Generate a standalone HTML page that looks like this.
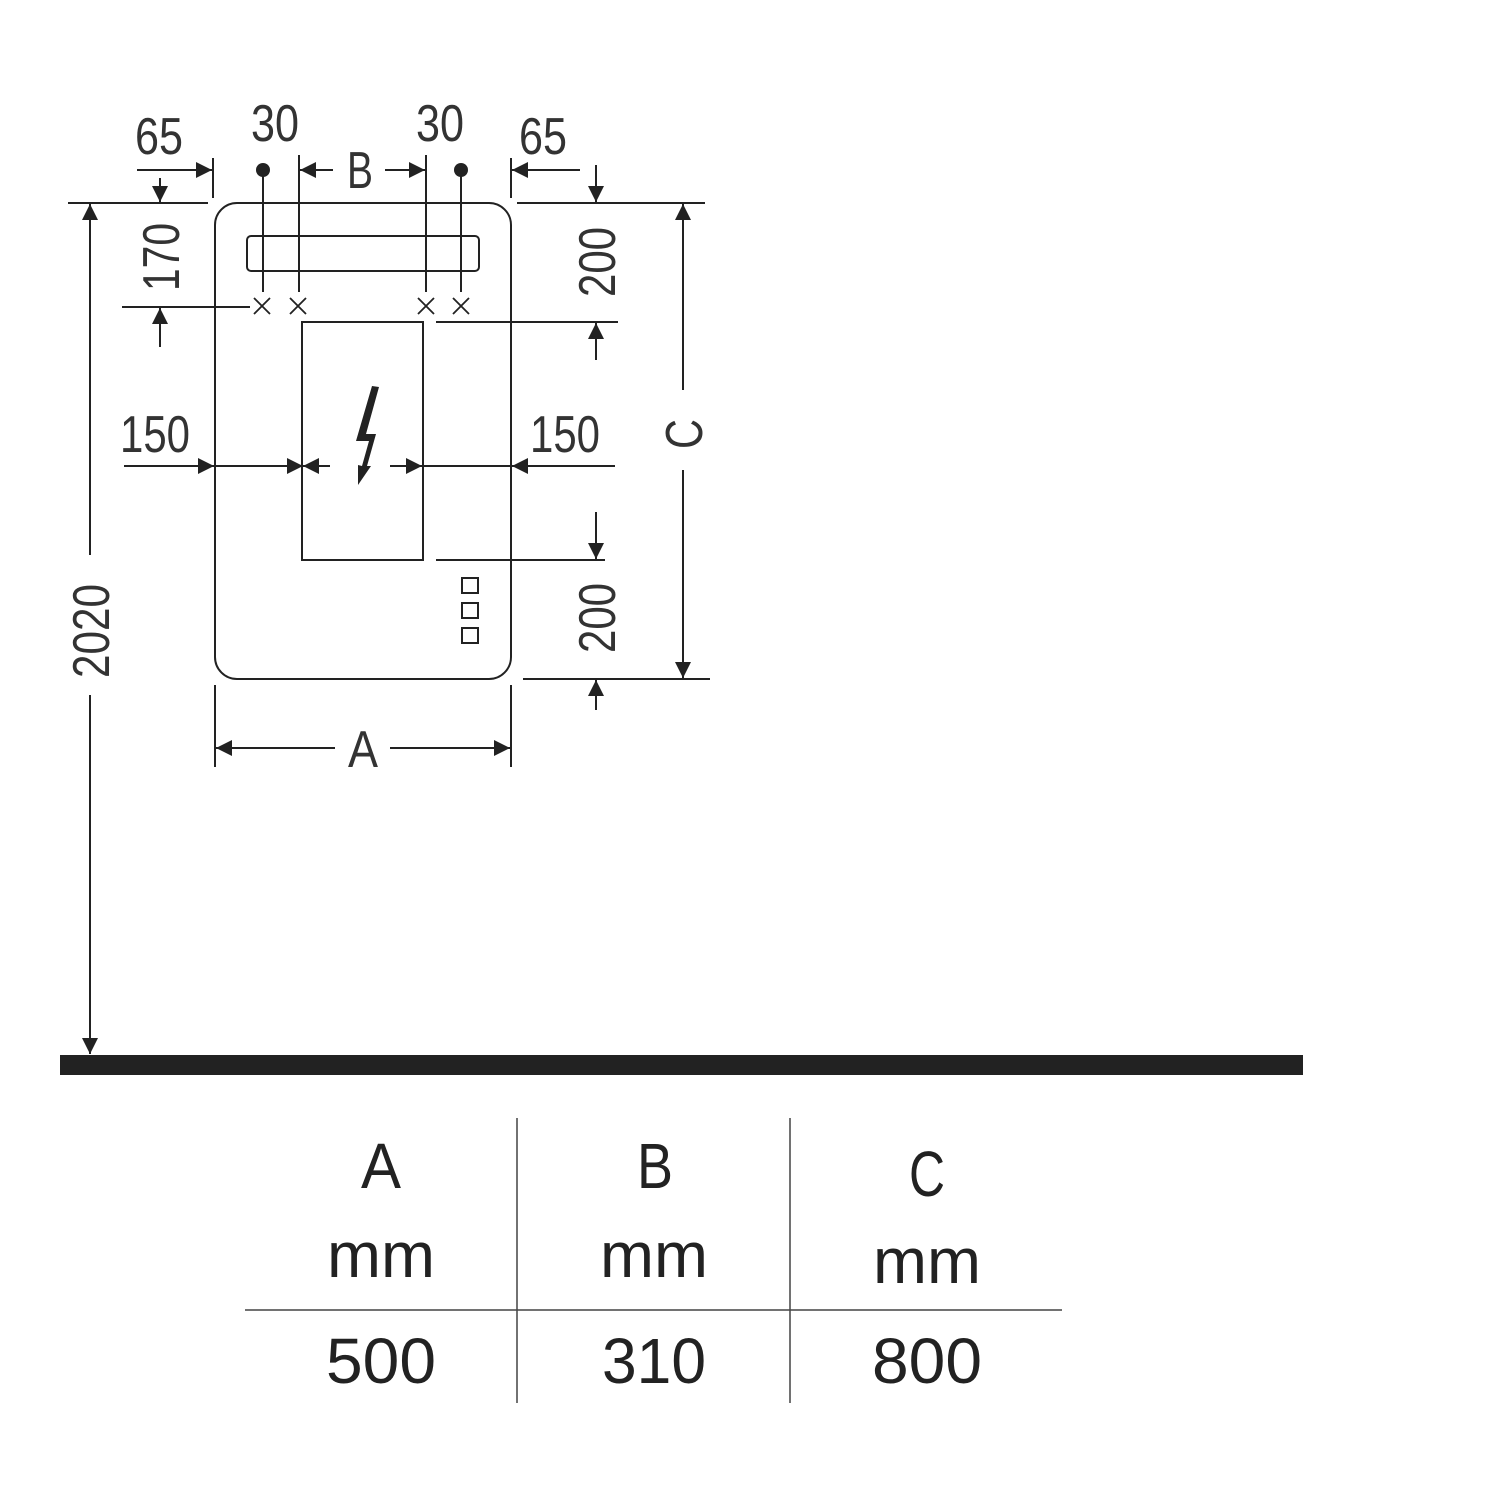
<!DOCTYPE html>
<html><head><meta charset="utf-8"><style>html,body{margin:0;padding:0;background:#fff}svg{display:block}</style></head>
<body>
<svg width="1500" height="1500" viewBox="0 0 1500 1500" xmlns="http://www.w3.org/2000/svg">
<defs>
<marker id="ar" viewBox="0 0 10 10" refX="10" refY="5" markerWidth="16" markerHeight="16" markerUnits="userSpaceOnUse" orient="auto"><path d="M0,0 L10,5 L0,10 z" fill="#222"/></marker>
</defs>
<g stroke="#222" stroke-width="2" fill="none">
<rect x="215" y="203" width="296" height="476" rx="22"/>
<rect x="247" y="236" width="232" height="35" rx="4"/>
<rect x="302" y="322" width="121" height="238"/>
<line x1="263" y1="170" x2="263" y2="292"/>
<line x1="299" y1="155" x2="299" y2="292"/>
<line x1="426" y1="155" x2="426" y2="292"/>
<line x1="461" y1="170" x2="461" y2="292"/>
<g stroke-width="1.8">
<path d="M254,298 l16,16 M270,298 l-16,16"/>
<path d="M290,298 l16,16 M306,298 l-16,16"/>
<path d="M418,298 l16,16 M434,298 l-16,16"/>
<path d="M453,298 l16,16 M469,298 l-16,16"/>
</g>
<rect x="462" y="578" width="16" height="15"/>
<rect x="462" y="603" width="16" height="15"/>
<rect x="462" y="628" width="16" height="15"/>
<!-- extension lines -->
<line x1="213" y1="158" x2="213" y2="198"/>
<line x1="511" y1="158" x2="511" y2="198"/>
<line x1="68" y1="203" x2="208" y2="203"/>
<line x1="517" y1="203" x2="705" y2="203"/>
<line x1="122" y1="307" x2="250" y2="307"/>
<line x1="436" y1="322" x2="618" y2="322"/>
<line x1="436" y1="560" x2="605" y2="560"/>
<line x1="523" y1="679" x2="710" y2="679"/>
<line x1="215" y1="685" x2="215" y2="767"/>
<line x1="511" y1="685" x2="511" y2="767"/>
<!-- arrows -->
<g marker-end="url(#ar)">
<line x1="137" y1="170" x2="212" y2="170"/>
<line x1="160" y1="178" x2="160" y2="202"/>
<line x1="160" y1="347" x2="160" y2="308"/>
<line x1="333" y1="170" x2="300" y2="170"/>
<line x1="385" y1="170" x2="425" y2="170"/>
<line x1="580" y1="170" x2="512" y2="170"/>
<line x1="596" y1="165" x2="596" y2="202"/>
<line x1="596" y1="360" x2="596" y2="323"/>
<line x1="596" y1="512" x2="596" y2="559"/>
<line x1="596" y1="710" x2="596" y2="680"/>
<line x1="124" y1="466" x2="214" y2="466"/>
<line x1="215" y1="466" x2="303" y2="466"/>
<line x1="330" y1="466" x2="303" y2="466"/>
<line x1="390" y1="466" x2="422" y2="466"/>
<line x1="615" y1="466" x2="512" y2="466"/>
<line x1="683" y1="390" x2="683" y2="204"/>
<line x1="683" y1="470" x2="683" y2="678"/>
<line x1="90" y1="555" x2="90" y2="204"/>
<line x1="90" y1="695" x2="90" y2="1054"/>
<line x1="335" y1="748" x2="216" y2="748"/>
<line x1="390" y1="748" x2="510" y2="748"/>
</g>
<line x1="423" y1="466" x2="511" y2="466"/>
</g>
<circle cx="263" cy="170" r="7" fill="#222"/>
<circle cx="461" cy="170" r="7" fill="#222"/>
<polygon points="372,386 379,387 366,434 376,434 367,466 371,466 358,485 358,465 362,466 369,441 356,441" fill="#222"/>
<rect x="60" y="1055" width="1243" height="20" fill="#222"/>
<g font-family="Liberation Sans Narrow, Liberation Sans, sans-serif" font-size="52" fill="#333" text-anchor="middle">
<text x="159" y="154" textLength="48" lengthAdjust="spacingAndGlyphs">65</text>
<text x="275" y="141" textLength="48" lengthAdjust="spacingAndGlyphs">30</text>
<text x="440" y="141" textLength="48" lengthAdjust="spacingAndGlyphs">30</text>
<text x="543" y="154" textLength="48" lengthAdjust="spacingAndGlyphs">65</text>
<text x="360" y="188" textLength="26" lengthAdjust="spacingAndGlyphs">B</text>
<text x="155" y="452" textLength="70" lengthAdjust="spacingAndGlyphs">150</text>
<text x="565" y="452" textLength="70" lengthAdjust="spacingAndGlyphs">150</text>
<text x="363" y="767" textLength="30" lengthAdjust="spacingAndGlyphs">A</text>
<text transform="translate(179,257) rotate(-90)" textLength="68" lengthAdjust="spacingAndGlyphs">170</text>
<text transform="translate(615,262) rotate(-90)" textLength="70" lengthAdjust="spacingAndGlyphs">200</text>
<text transform="translate(615,618) rotate(-90)" textLength="70" lengthAdjust="spacingAndGlyphs">200</text>
<text transform="translate(702,434) rotate(-90)" textLength="30" lengthAdjust="spacingAndGlyphs">C</text>
<text transform="translate(109,631) rotate(-90)" textLength="94" lengthAdjust="spacingAndGlyphs">2020</text>
</g>
<g stroke="#444" stroke-width="1.5">
<line x1="245" y1="1310" x2="1062" y2="1310"/>
<line x1="517" y1="1118" x2="517" y2="1403"/>
<line x1="790" y1="1118" x2="790" y2="1403"/>
</g>
<g font-family="Liberation Sans, sans-serif" font-size="64" fill="#222" text-anchor="middle">
<text x="381" y="1188" textLength="40" lengthAdjust="spacingAndGlyphs">A</text>
<text x="655" y="1188" textLength="36" lengthAdjust="spacingAndGlyphs">B</text>
<text x="927" y="1196" textLength="36" lengthAdjust="spacingAndGlyphs">C</text>
<text x="381" y="1277" textLength="108" lengthAdjust="spacingAndGlyphs">mm</text>
<text x="654" y="1277" textLength="108" lengthAdjust="spacingAndGlyphs">mm</text>
<text x="927" y="1283" textLength="108" lengthAdjust="spacingAndGlyphs">mm</text>
<text x="381" y="1383" textLength="110" lengthAdjust="spacingAndGlyphs">500</text>
<text x="654" y="1383" textLength="104" lengthAdjust="spacingAndGlyphs">310</text>
<text x="927" y="1383" textLength="110" lengthAdjust="spacingAndGlyphs">800</text>
</g>
</svg>
</body></html>
